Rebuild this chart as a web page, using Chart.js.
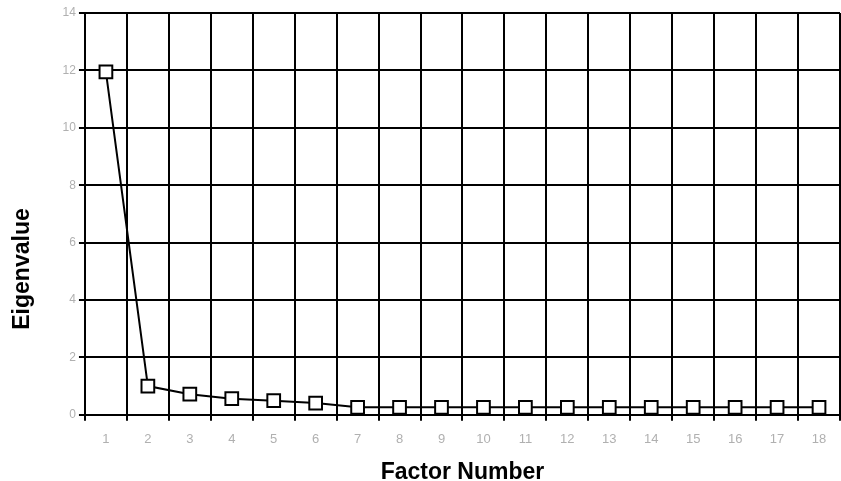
<!DOCTYPE html>
<html lang="en">
<head>
  <meta charset="UTF-8" />
  <title>Scree Plot</title>
  <script src="https://cdn.jsdelivr.net/npm/chart.js"></script>
  <style>
    body { margin: 0; background: #fff; }
  </style>
</head>
<body>
  <canvas id="scree" width="841" height="481"></canvas>

  <script>
    // Factor numbers and eigenvalues
    const factors = ['1', '2', '3', '4', '5', '6', '7', '8', '9', '10', '11', '12', '13', '14', '15', '16', '17', '18'];
    const eigenvalues = [11.95, 1.0, 0.72, 0.56, 0.49, 0.41, 0.26, 0.26, 0.26, 0.26, 0.26, 0.26, 0.26, 0.26, 0.26, 0.26, 0.26, 0.26];
    const yTickValues = [0, 2, 4, 6, 8, 10, 12, 14];

    const ctx = document.getElementById('scree').getContext('2d');
    const titleFont = { family: 'Liberation Sans', size: 23, weight: 'bold' };

    // the y title sits lower than the plot centre in the original, so draw it by hand
    const yTitle = {
      id: 'yTitle',
      afterDraw(chart) {
        const c = chart.ctx;
        c.save();
        c.translate(23, 269);
        c.rotate(-Math.PI / 2);
        c.font = 'bold 23px "Liberation Sans"';
        c.fillStyle = '#000';
        c.textAlign = 'center';
        c.textBaseline = 'middle';
        c.fillText('Eigenvalue', 0, 0);
        c.restore();
      }
    };

    new Chart(ctx, {
      type: 'line',
      data: {
        labels: factors,
        datasets: [{
          data: eigenvalues,
          borderColor: '#000',
          borderWidth: 2,
          tension: 0,
          pointStyle: 'rect',
          pointRadius: 9,
          pointBorderWidth: 2,
          pointBorderColor: '#000',
          pointBackgroundColor: '#fff'
        }]
      },
      options: {
        responsive: false,
        animation: false,
        layout: { autoPadding: false, padding: { top: 13, right: 1, left: 12, bottom: -5 } },
        plugins: {
          legend: { display: false },
          tooltip: { enabled: false }
        },
        scales: {
          x: {
            offset: true,
            grid: {
              offset: true,
              color: '#000',
              lineWidth: 2,
              tickLength: 6,
              tickColor: '#000'
            },
            border: { color: '#000', width: 2 },
            ticks: {
              color: '#b0b0b0',
              font: { family: 'Liberation Sans', size: 13 },
              padding: 11,
              maxRotation: 0
            },
            title: {
              display: true,
              text: 'Factor Number',
              color: '#000',
              font: titleFont,
              padding: { top: 0, bottom: 0 }
            }
          },
          y: {
            min: 0,
            max: 14,
            afterBuildTicks: axis => {
              axis.ticks = yTickValues.map(v => ({ value: v }));
            },
            grid: {
              color: '#000',
              lineWidth: 2,
              tickLength: 6,
              tickColor: '#000'
            },
            border: { color: '#000', width: 2 },
            ticks: {
              color: '#b0b0b0',
              font: { family: 'Liberation Sans', size: 12 },
              padding: 3
            },
            title: {
              display: true,
              text: 'Eigenvalue',
              color: 'rgba(0,0,0,0)',
              font: titleFont,
              padding: { top: 0, bottom: 20 }
            }
          }
        }
      },
      plugins: [yTitle]
    });
  </script>
</body>
</html>
